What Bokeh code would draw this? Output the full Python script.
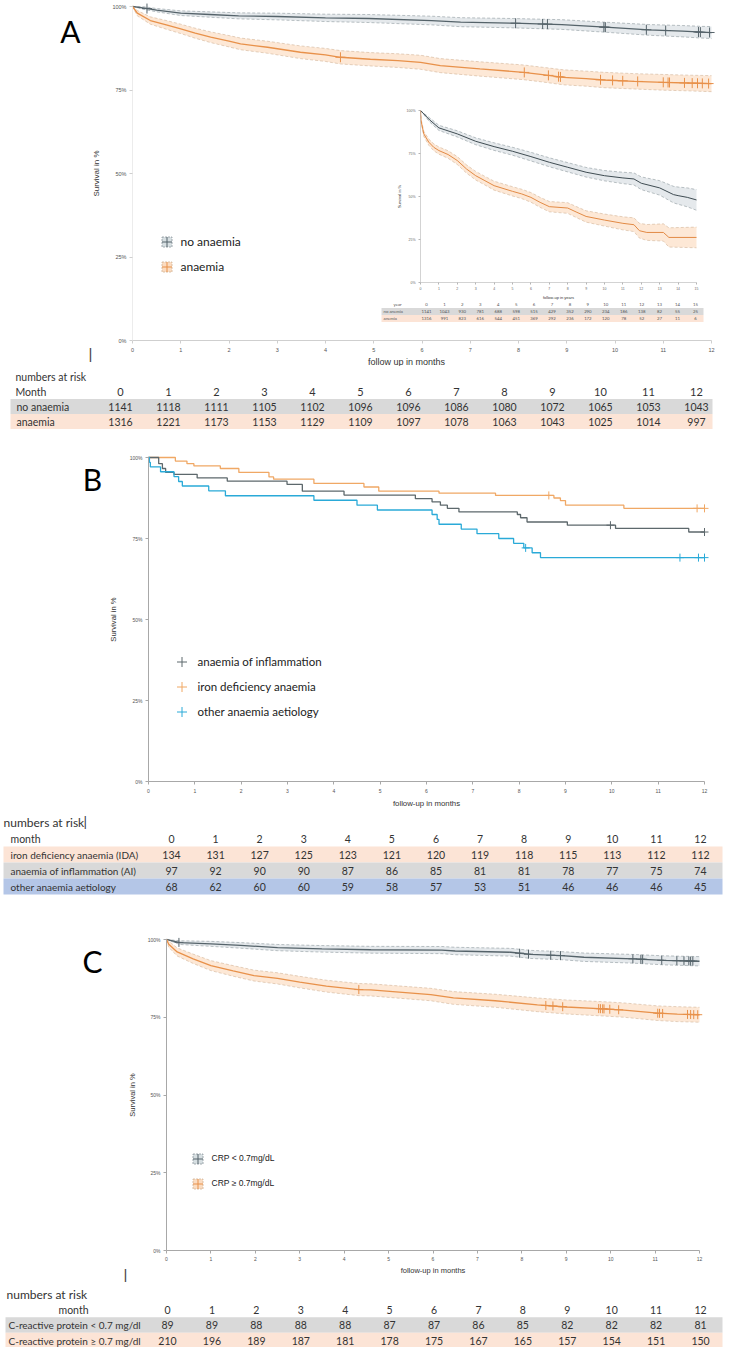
import numpy as np
from bokeh.plotting import figure
from bokeh.models import (Range1d, FixedTicker, PrintfTickFormatter, LinearAxis,
                          Legend, LegendItem, Label)
from bokeh.layouts import column
from bokeh.embed import file_html
from bokeh.resources import INLINE
from bokeh.core.properties import value

# ------------------------------------------------------------------ data
months = list(range(13))
years = list(range(16))
pct_ticks = [0, 25, 50, 75, 100]

# Panel A - main plot (months, survival %)
a_t_no = [0, 0.25, 0.5, 1.0, 1.6, 2.2, 3.0, 4.0, 4.9, 6.2, 6.8, 7.9, 8.9, 9.8, 10.7, 11.4, 11.8, 12.0]
a_s_no = [100, 99.5, 98.9, 98.0, 97.6, 97.2, 97.0, 96.6, 96.4, 95.8, 95.3, 95.0, 94.6, 93.8, 93.0, 92.6, 92.3, 92.2]
a_ci_no = [0, 0.4, 0.5, 0.7, 0.8, 0.9, 1.0, 1.1, 1.2, 1.3, 1.35, 1.4, 1.45, 1.5, 1.6, 1.7, 1.75, 1.8]
a_cens_no = [0.3, 7.94, 8.5, 8.6, 9.77, 9.8, 10.65, 11.05, 11.73, 11.77, 11.96]

a_t_an = [0, 0.1, 0.37, 0.7, 1.0, 1.3, 1.62, 2.0, 2.24, 2.8, 3.48, 4.0, 4.31, 4.93, 5.5, 5.97, 6.38, 7.2,
          8.1, 8.5, 8.93, 9.4, 9.76, 10.4, 11.0, 11.5, 12.0]
a_s_an = [100, 98.0, 95.8, 94.5, 93.3, 92.0, 90.8, 89.6, 88.8, 87.8, 86.3, 85.5, 84.8, 84.2, 83.8, 83.3,
          82.3, 81.3, 80.3, 79.6, 78.8, 78.4, 78.0, 77.6, 77.3, 77.1, 76.9]
a_ci_an = [0, 0.8, 1.1, 1.3, 1.4, 1.5, 1.6, 1.7, 1.75, 1.8, 1.9, 1.95, 2.0, 2.0, 2.05, 2.1, 2.1, 2.15,
           2.2, 2.2, 2.25, 2.25, 2.3, 2.3, 2.35, 2.35, 2.4]
a_cens_an = [4.31, 8.12, 8.62, 8.83, 8.87, 9.7, 9.95, 10.16, 10.47, 11.0, 11.1, 11.13, 11.44, 11.6,
             11.71, 11.81, 11.94]

# Panel A - inset (years, survival %)
i_t_no = [0, 0.5, 1, 2, 3, 4, 5, 6, 7, 8, 9, 10, 11, 11.6, 12, 13, 13.75, 14, 14.5, 15]
i_s_no = [100, 94.5, 89.9, 86.4, 82.1, 79.0, 76.3, 73.2, 69.9, 67.0, 64.1, 62.1, 60.8, 60.2, 57.7,
          55.0, 51.1, 50.5, 49.5, 48.0]
i_ci_no = [0, 1.2, 1.5, 1.8, 2.0, 2.2, 2.3, 2.5, 2.6, 2.7, 2.8, 3.0, 3.3, 3.5, 3.7, 4.2, 4.8, 5.0, 5.5, 6.0]
i_t_an = [0, 0.03, 0.18, 0.45, 0.72, 1, 1.5, 2, 2.5, 3, 3.5, 4, 5, 5.5, 6, 6.5, 7, 8, 8.5, 9, 10, 11,
          11.6, 11.9, 12.3, 13.2, 13.5, 15]
i_s_an = [100, 94, 86.4, 81.6, 78.6, 76.7, 74.4, 70.9, 66.0, 62.1, 59.2, 56.3, 53.0, 51.5, 49.5, 46.6,
          44.1, 43.3, 40.8, 38.4, 36.3, 34.4, 33.6, 30.1, 29.1, 29.1, 26.2, 26.2]
i_ci_an = [0, 1, 1.5, 1.8, 2.0, 2.1, 2.2, 2.3, 2.4, 2.5, 2.5, 2.6, 2.7, 2.7, 2.8, 2.9, 3.0, 3.1, 3.2,
           3.3, 3.5, 3.8, 4.0, 4.3, 4.6, 5.0, 5.6, 6.0]
i_risk_no = [1141, 1043, 930, 781, 688, 598, 515, 429, 352, 290, 234, 186, 138, 82, 55, 25]
i_risk_an = [1316, 991, 823, 616, 544, 451, 369, 292, 236, 172, 120, 78, 52, 27, 11, 6]

# Panel A - numbers at risk
ta_no = [1141, 1118, 1111, 1105, 1102, 1096, 1096, 1086, 1080, 1072, 1065, 1053, 1043]
ta_an = [1316, 1221, 1173, 1153, 1129, 1109, 1097, 1078, 1063, 1043, 1025, 1014, 997]

# Panel B - step curves
b_t_ida = [0, 0.58, 0.83, 0.98, 1.55, 1.95, 2.6, 2.7, 3.57, 4.65, 4.97, 6.27, 7.49, 8.75, 8.89, 9.0, 10.26, 12.0]
b_s_ida = [100, 98.9, 98.1, 97.4, 96.6, 95.4, 94.0, 93.3, 92.0, 90.9, 89.6, 89.0, 88.3, 87.5, 86.7, 85.3, 84.3, 84.3]
b_cens_ida = [8.64, 11.84, 12.0]
b_t_ai = [0, 0.22, 0.30, 0.37, 0.55, 1.05, 1.70, 2.99, 3.32, 4.22, 5.76, 6.12, 6.30, 6.45, 6.70, 7.96,
          8.03, 8.17, 9.04, 10.08, 11.66, 12.0]
b_s_ai = [100, 98.1, 96.6, 95.4, 94.8, 93.7, 92.7, 91.7, 89.6, 88.4, 87.3, 86.3, 85.3, 84.3, 83.2, 82.4,
          81.4, 80.1, 79.1, 78.1, 77.0, 77.0]
b_cens_ai = [9.97, 12.0]
b_t_oth = [0, 0.02, 0.04, 0.26, 0.55, 0.65, 0.73, 1.30, 1.66, 3.57, 4.50, 4.94, 6.12, 6.23, 6.27, 6.75,
           7.09, 7.56, 7.88, 8.10, 8.28, 8.46, 12.0]
b_s_oth = [100, 98.5, 97.1, 95.6, 94.1, 92.6, 91.2, 89.7, 88.2, 86.8, 85.3, 83.8, 82.4, 80.9, 79.4, 77.9,
           76.5, 75.0, 73.5, 72.1, 70.6, 69.1, 69.1]
b_cens_oth = [8.14, 11.47, 11.87, 12.0]

tb_ida = [134, 131, 127, 125, 123, 121, 120, 119, 118, 115, 113, 112, 112]
tb_ai = [97, 92, 90, 90, 87, 86, 85, 81, 81, 78, 77, 75, 74]
tb_oth = [68, 62, 60, 60, 59, 58, 57, 53, 51, 46, 46, 46, 45]

# Panel C
c_t_lo = [0, 0.3, 1.0, 1.67, 2.5, 3.5, 4.6, 6.2, 6.5, 7.75, 8.2, 8.9, 9.4, 10.5, 11.2, 12.0]
c_s_lo = [100, 99.0, 98.6, 98.1, 97.4, 97.0, 96.7, 96.6, 96.3, 95.9, 95.2, 94.8, 94.3, 93.8, 93.3, 93.0]
c_ci_lo = [0, 0.6, 0.8, 0.9, 1.0, 1.05, 1.1, 1.15, 1.2, 1.25, 1.3, 1.3, 1.35, 1.4, 1.45, 1.5]
c_cens_lo = [0.28, 7.95, 8.15, 8.65, 8.87, 10.5, 10.68, 10.72, 11.15, 11.49, 11.65, 11.76, 11.8, 11.85]
c_t_hi = [0, 0.05, 0.24, 0.6, 1.0, 1.5, 1.97, 2.5, 3.0, 3.6, 4.33, 4.6, 5.95, 6.46, 7.4, 8.35, 9.0,
          9.84, 10.3, 11.06, 11.5, 12.0]
c_s_hi = [100, 98.5, 96.0, 93.8, 91.6, 89.9, 88.4, 87.5, 86.3, 85.0, 83.9, 83.8, 82.3, 81.2, 80.3, 79.0,
          78.3, 77.7, 77.3, 76.3, 76.0, 75.8]
c_ci_hi = [0, 1.0, 1.3, 1.5, 1.6, 1.7, 1.75, 1.8, 1.85, 1.9, 1.95, 1.95, 2.0, 2.05, 2.1, 2.2, 2.25,
           2.3, 2.3, 2.35, 2.4, 2.4]
c_cens_hi = [4.33, 8.54, 8.7, 8.92, 9.73, 9.77, 9.82, 9.85, 9.98, 10.18, 11.06, 11.1, 11.17, 11.73,
             11.8, 11.87, 11.96]

tc_lo = [89, 89, 88, 88, 88, 87, 87, 86, 85, 82, 82, 82, 81]
tc_hi = [210, 196, 189, 187, 181, 178, 175, 167, 165, 157, 154, 151, 150]

# ------------------------------------------------------------------ styles
W = 733
GREY, GREY_FILL, GREY_EDGE = "#55636a", "#d3dbdf", "#8d989e"
ORANGE, ORANGE_FILL, ORANGE_EDGE = "#e8914a", "#fbd8ba", "#d2b497"
B_AI, B_IDA, B_OTH = "#5d686c", "#f0a865", "#2aaad8"
BAND_GREY, BAND_PEACH, BAND_BLUE = "#d9d9d9", "#fce4d6", "#b4c6e7"
AX_FONT = "Liberation Sans"
TAB_FONT = "Lato"


class Panel:
    """A figure whose frame is the whole canvas; px/py are page pixels."""

    def __init__(self, top, h, x0, ppx, y0, ppy):
        self.top, self.h, self.x0, self.ppx, self.y0, self.ppy = top, h, x0, ppx, y0, ppy
        self.p = figure(width=W, height=h,
                        x_range=Range1d((0 - x0) / ppx, (W - x0) / ppx),
                        y_range=Range1d((y0 - (top + h)) / ppy, (y0 - top) / ppy),
                        x_axis_type=None, y_axis_type=None, min_border=0,
                        output_backend="svg", toolbar_location=None, outline_line_color=None)

    def fx(self, px):
        return (px - self.x0) / self.ppx

    def fy(self, py):
        return (self.y0 - py) / self.ppy

    def legend_loc(self, left_px, bottom_py):
        return (left_px, self.top + self.h - bottom_py)


def style_axis(ax, color, tick_fs, lab_fs, tick_stand, lab_stand, line_color=None):
    ax.axis_line_color = line_color or color
    ax.major_tick_line_color = color
    ax.minor_tick_line_color = None
    ax.major_tick_out = 3
    ax.major_tick_in = 0
    ax.major_label_text_font = AX_FONT
    ax.major_label_text_font_size = tick_fs
    ax.major_label_text_color = "#555555"
    ax.major_label_standoff = tick_stand
    ax.axis_label_text_font = AX_FONT
    ax.axis_label_text_font_size = lab_fs
    ax.axis_label_text_font_style = "normal"
    ax.axis_label_text_color = "#333333"
    ax.axis_label_standoff = lab_stand


def km_axes(p, xlabel, color, tick_fs, xl_fs, yl_fs, xs1, xs2, ys2, y_line=None, x_end=12, **rng):
    xa = LinearAxis(fixed_location=0, bounds=(0, x_end), ticker=FixedTicker(ticks=list(range(x_end + 1))),
                    axis_label=xlabel, **rng)
    ya = LinearAxis(fixed_location=0, bounds=(0, 100), ticker=FixedTicker(ticks=pct_ticks),
                    formatter=PrintfTickFormatter(format="%d%%"), axis_label="Survival in %", **rng)
    style_axis(xa, color, tick_fs, xl_fs, xs1, xs2)
    style_axis(ya, color, tick_fs, yl_fs, 3, ys2, line_color=y_line)
    p.add_layout(xa, "below")
    p.add_layout(ya, "left")
    return xa, ya


def km_band(p, t, s, ci, color, fill, edge, cens=None, msize=10, lw=1.3, **rng):
    t = np.asarray(t, float)
    s = np.asarray(s, float)
    ci = np.asarray(ci, float)
    lo = s - ci
    hi = np.minimum(s + ci, 100.0)
    p.varea(x=t, y1=lo, y2=hi, fill_color=fill, fill_alpha=0.6, **rng)
    p.line(t, lo, line_color=edge, line_dash="3 2", line_width=0.6, **rng)
    p.line(t, hi, line_color=edge, line_dash="3 2", line_width=0.6, **rng)
    p.line(t, s, line_color=color, line_width=lw, **rng)
    if cens is None:
        return None, None
    cx = np.asarray(cens, float)
    cy = np.interp(cx, t, s)
    box = p.scatter(cx, cy, marker="square", size=msize, fill_color=fill, fill_alpha=0.9,
                    line_color=edge, line_dash="2 1", line_width=0.8, visible=False, **rng)
    marks = p.scatter(cx, cy, marker="cross", size=msize, line_color=color, line_width=1, **rng)
    return box, marks


def km_step(p, t, s, color, cens, msize=8):
    t = np.asarray(t, float)
    s = np.asarray(s, float)
    p.step(t, s, mode="after", line_color=color, line_width=1.3)
    cx = np.asarray(cens, float)
    cy = s[np.searchsorted(t, cx, side="right") - 1]
    return p.scatter(cx, cy, marker="cross", size=msize, line_color=color, line_width=1)


def add_legend(p, entries, loc, spacing, standoff, font, fsize):
    items = [LegendItem(label=value(lab), renderers=[r for r in rs if r is not None])
             for lab, rs in entries]
    leg = Legend(items=items, location=loc, orientation="vertical", glyph_width=25,
                 glyph_height=25, label_height=25, spacing=spacing, padding=0, margin=0,
                 label_standoff=standoff, label_text_font=font, label_text_font_size=fsize,
                 label_text_color="#222222", border_line_color=None, background_fill_alpha=0,
                 inactive_fill_alpha=0)
    p.add_layout(leg)


def label(P, px, py, text, size, font=TAB_FONT, color="black", align="center"):
    P.p.add_layout(Label(x=P.fx(px), y=P.fy(py), text=text, text_font=font, text_font_size=size,
                         text_align=align, text_baseline="middle", text_color=color))


# ------------------------------------------------------------------ panel A
A = Panel(top=0, h=366, x0=132, ppx=(711 - 132) / 12, y0=340, ppy=(340 - 6) / 100)
pA = A.p
km_axes(pA, "", "#cfcfcf", "5.5px", "9px", "8px", 4, 3, 8, y_line="#ececec")
boxA1, crA1 = km_band(pA, a_t_no, a_s_no, a_ci_no, GREY, GREY_FILL, GREY_EDGE, a_cens_no)
boxA2, crA2 = km_band(pA, a_t_an, a_s_an, a_ci_an, ORANGE, ORANGE_FILL, ORANGE_EDGE, a_cens_an)
add_legend(pA, [("no anaemia", [boxA1, crA1]), ("anaemia", [boxA2, crA2])],
           loc=A.legend_loc(153.5, 278.5), spacing=-4, standoff=2, font=TAB_FONT, fsize="12px")
label(A, 406, 361, "follow up in months", "9px", font=AX_FONT, color="#333333")
label(A, 70, 30, "A", "30px")
label(A, 90, 353, "|", "15px", font=AX_FONT, color="#444444")

# inset (own ranges inside panel A)
IX0, IX15, IY0, IY100 = 420, 696, 282, 110
ipx = (IX15 - IX0) / 15.0
ipy = (IY0 - IY100) / 100.0
pA.extra_x_ranges = {"ix": Range1d((0 - IX0) / ipx, (W - IX0) / ipx)}
pA.extra_y_ranges = {"iy": Range1d((IY0 - A.h) / ipy, IY0 / ipy)}
rng = dict(x_range_name="ix", y_range_name="iy")


def ix_of(px):
    return (px - IX0) / ipx


def iy_of(py):
    return (IY0 - py) / ipy


km_band(pA, i_t_no, i_s_no, i_ci_no, "#3f4c52", GREY_FILL, GREY_EDGE, lw=1.0, **rng)
km_band(pA, i_t_an, i_s_an, i_ci_an, "#e28a45", ORANGE_FILL, ORANGE_EDGE, lw=1.0, **rng)
xa_i, ya_i = km_axes(pA, "follow-up in years", "#b5b5b5", "3.5px", "4px", "4px", 2, 2, 2,
                     x_end=15, **rng)
for ax in (xa_i, ya_i):
    ax.major_tick_out = 2
    ax.axis_line_width = 0.6
    ax.major_label_text_color = "#666666"

row_py = [304, 311, 318]
cx_in = [ix_of(426 + 17.93 * k) for k in years]
bh = 7 / ipy
pA.quad(left=[ix_of(381)] * 2, right=[ix_of(703)] * 2,
        top=[iy_of(row_py[1]) + bh / 2, iy_of(row_py[2]) + bh / 2],
        bottom=[iy_of(row_py[1]) - bh / 2, iy_of(row_py[2]) - bh / 2],
        fill_color=[BAND_GREY, BAND_PEACH], line_color=None, **rng)
for vals, py in ((years, row_py[0]), (i_risk_no, row_py[1]), (i_risk_an, row_py[2])):
    pA.text(x=cx_in, y=[iy_of(py)] * len(cx_in), text=[str(v) for v in vals],
            text_font=value(TAB_FONT), text_font_size="4.3px", text_color="#555555",
            text_align="center", text_baseline="middle", **rng)
pA.text(x=[ix_of(393), ix_of(383), ix_of(383)], y=[iy_of(r) for r in row_py],
        text=["year", "no anemia", "anemia"], text_font=value(TAB_FONT), text_font_size="4.3px",
        text_color="#555555", text_align="left", text_baseline="middle", **rng)


# ------------------------------------------------------------------ tables
class Table:
    def __init__(self, top, h, col0, dcol, row0, drow):
        self.col0, self.dcol = col0, dcol
        self.f = figure(width=W, height=h,
                        x_range=Range1d(-col0 / dcol, (W - col0) / dcol),
                        y_range=Range1d((top + h - row0) / drow, (top - row0) / drow),
                        x_axis_type=None, y_axis_type=None, min_border=0, output_backend="svg",
                        toolbar_location=None, outline_line_color=None)

    def px(self, xp):
        return (xp - self.col0) / self.dcol

    def text(self, xs, ys, texts, size="10.5px", align="center", color="#333333"):
        self.f.text(x=xs, y=ys, text=texts, text_font=value(TAB_FONT), text_font_size=size,
                    text_color=color, text_align=align, text_baseline="middle")

    def bands(self, x_l, x_r, rows, colors):
        self.f.quad(left=[self.px(x_l)] * len(rows), right=[self.px(x_r)] * len(rows),
                    top=[r - 0.5 for r in rows], bottom=[r + 0.5 for r in rows],
                    fill_color=colors, line_color=None)


# table A
TA = Table(top=366, h=80, col0=120, dcol=48.0, row0=391, drow=15)
TA.bands(10, 712, [1, 2], [BAND_GREY, BAND_PEACH])
TA.text([TA.px(15), TA.px(15)], [-1, 0], ["numbers at risk", "Month"], align="left")
TA.text(months, [0] * 13, [str(m) for m in months], size="11px")
TA.text(months, [1] * 13, [str(v) for v in ta_no])
TA.text(months, [2] * 13, [str(v) for v in ta_an])
TA.text([TA.px(16), TA.px(16)], [1, 2], ["no anaemia", "anaemia"], align="left")

# ------------------------------------------------------------------ panel B
B = Panel(top=446, h=366, x0=148, ppx=(704 - 148) / 12, y0=781, ppy=(781 - 457) / 100)
pB = B.p
km_axes(pB, "follow-up in months", "#a8a8a8", "5px", "7.8px", "7.7px", 4, 3, 9)
crB1 = km_step(pB, b_t_ida, b_s_ida, B_IDA, b_cens_ida)
crB2 = km_step(pB, b_t_ai, b_s_ai, B_AI, b_cens_ai)
crB3 = km_step(pB, b_t_oth, b_s_oth, B_OTH, b_cens_oth)
add_legend(pB, [("anaemia of inflammation", [crB2]), ("iron deficiency anaemia", [crB1]),
                ("other anaemia aetiology", [crB3])],
           loc=B.legend_loc(168.5, 723.5), spacing=-4, standoff=4, font=TAB_FONT, fsize="11.5px")
label(B, 92, 478, "B", "30px")

# table B
TB = Table(top=812, h=90, col0=171, dcol=44.08, row0=838, drow=16)
TB.bands(3, 722, [1, 2, 3], [BAND_PEACH, BAND_GREY, BAND_BLUE])
TB.text([TB.px(3)], [-1], ["numbers at risk"], size="12px", align="left")
TB.text([TB.px(83)], [-1.05], ["|"], size="14px", align="left")
TB.text([TB.px(10)], [0], ["month"], align="left")
TB.text(months, [0] * 13, [str(m) for m in months])
TB.text(months, [1] * 13, [str(v) for v in tb_ida])
TB.text(months, [2] * 13, [str(v) for v in tb_ai])
TB.text(months, [3] * 13, [str(v) for v in tb_oth])
TB.text([TB.px(10)] * 3, [1, 2, 3],
        ["iron deficiency anaemia (IDA)", "anaemia of inflammation (AI)", "other anaemia aetiology"],
        size="10px", align="left")

# ------------------------------------------------------------------ panel C
C = Panel(top=902, h=380, x0=166, ppx=(699 - 166) / 12, y0=1250, ppy=(1250 - 939) / 100)
pC = C.p
km_axes(pC, "follow-up in months", "#a8a8a8", "5px", "7.5px", "7.5px", 3, 2, 8)
boxC1, crC1 = km_band(pC, c_t_lo, c_s_lo, c_ci_lo, GREY, GREY_FILL, GREY_EDGE, c_cens_lo, msize=9)
boxC2, crC2 = km_band(pC, c_t_hi, c_s_hi, c_ci_hi, ORANGE, ORANGE_FILL, ORANGE_EDGE, c_cens_hi, msize=9)
add_legend(pC, [("CRP < 0.7mg/dL", [boxC1, crC1]), ("CRP \u2265 0.7mg/dL", [boxC2, crC2])],
           loc=C.legend_loc(184.5, 1195.5), spacing=-5, standoff=2, font=AX_FONT, fsize="8.5px")
label(C, 92, 960, "C", "30px")
label(C, 125, 1274, "|", "15px", font=AX_FONT, color="#444444")

# table C
TC = Table(top=1282, h=65, col0=167, dcol=44.42, row0=1309, drow=15.5)
TC.bands(5, 722, [1, 2], [BAND_GREY, BAND_PEACH])
TC.text([TC.px(6)], [-1], ["numbers at risk"], size="12px", align="left")
TC.text([TC.px(73)], [0], ["month"])
TC.text(months, [0] * 13, [str(m) for m in months])
TC.text(months, [1] * 13, [str(v) for v in tc_lo])
TC.text(months, [2] * 13, [str(v) for v in tc_hi])
TC.text([TC.px(8)] * 2, [1, 2],
        ["C-reactive protein < 0.7 mg/dl", "C-reactive protein \u2265 0.7 mg/dl"],
        size="10px", align="left")

layout = column(pA, TA.f, pB, TB.f, pC, TC.f)
open("out.html", "w").write(file_html(layout, INLINE))
